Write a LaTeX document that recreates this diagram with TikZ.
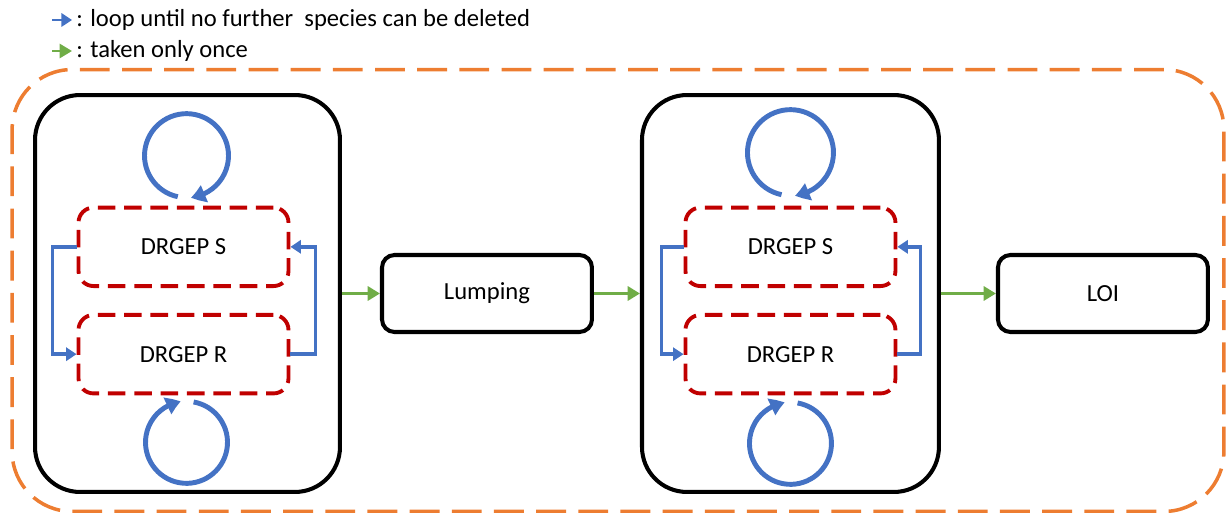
\documentclass[tikz,border=0pt]{standalone}
\usepackage{fontspec}
\setmainfont{Carlito}
\usepackage{tikz}
\usetikzlibrary{positioning}
\usetikzlibrary{calc}
\usetikzlibrary{arrows.meta}
\usetikzlibrary{bending}
\usepackage{xcolor}
\definecolor{loopblue}{HTML}{4472C4}
\definecolor{oncegreen}{HTML}{70AD47}
\definecolor{stagered}{HTML}{C00000}
\definecolor{frameorange}{HTML}{ED7D31}
\tikzset{reduction/.style={
          draw, line width=2.3pt, rounded corners=0.9cm,
          minimum height=7.94cm, inner sep=0pt
          },
        drgep/.style={
          draw=stagered, line width=2.2pt, dash pattern=on 10pt off 5pt,
          rounded corners=0.3cm, minimum width=4.2cm, minimum height=1.57cm,
          font=\fontsize{14}{17}\selectfont
          },
        plainbox/.style={
          draw, line width=2.3pt, rounded corners=0.25cm,
          minimum width=4.2cm, minimum height=1.54cm,
          font=\fontsize{14}{17}\selectfont
          },
        pipeline/.style={
          draw=frameorange, line width=2pt, dash pattern=on 17pt off 7pt,
          rounded corners=1.2cm, inner sep=0pt
          },
        selfloop/.style={draw=loopblue, line width=2.8pt, -{Triangle[length=8pt,width=10pt,bend]}},
        swapedge/.style={draw=loopblue, line width=2pt, -{Triangle[length=6pt,width=7.5pt]}},
        onceedge/.style={draw=oncegreen, line width=2pt, -{Triangle[length=7pt,width=8pt]}},
        keytext/.style={anchor=west, inner sep=0pt, font=\fontsize{14}{17}\selectfont},
}

\begin{document}
\begin{tikzpicture}[x=0.02cm, y=0.02cm]
      \useasboundingbox (0,0) rectangle (1226,-513);
      % \draw[help lines, dashed] grid (1226, -513);

      % LEGEND
      \node[keytext] (loopkey) at (76,-20) {: loop until no further\ \ species can be deleted};
      \node[keytext] (oncekey) at (76,-51) {: taken only once};
      \draw[swapedge, line width=1.4pt] ([xshift=-0.48cm]loopkey.west) -- ([xshift=-0.08cm]loopkey.west);
      \draw[onceedge, line width=1.4pt] ([xshift=-0.48cm]oncekey.west) -- ([xshift=-0.08cm]oncekey.west);

      % WHOLE PIPELINE
      \node[pipeline, minimum width=24.24cm, minimum height=8.84cm] (frame) at (618,-290.5) {};

      % FIRST REDUCTION
      \node[reduction, minimum width=6.1cm] (reduceone) at (187.5,-293.5) {};
      \node[drgep, above=0.11cm of reduceone.center, xshift=-0.08cm] (drgepsone) {DRGEP S};
      \node[drgep, below=0.5cm of drgepsone] (drgeprone) {DRGEP R};
      \draw[swapedge] (drgepsone.west) -- ++(-24,0) |- (drgeprone.west);
      \draw[swapedge] (drgeprone.east) -- ++(25,0) |- (drgepsone.east);
      \draw[selfloop] ($(drgepsone.north)+(3,50)+(258:0.84cm)$) arc[start angle=258, end angle=-84, radius=0.84cm];
      \draw[selfloop] ($(drgeprone.south)+(3,-47)+(80:0.82cm)$) arc[start angle=80, end angle=-262, radius=0.82cm];

      % LUMPING
      \node[plainbox, right=0.76cm of reduceone] (lumping) {Lumping};

      % SECOND REDUCTION
      \node[reduction, minimum width=5.94cm, right=0.92cm of lumping] (reducetwo) {};
      \node[drgep, above=0.11cm of reducetwo.center] (drgepstwo) {DRGEP S};
      \node[drgep, below=0.5cm of drgepstwo] (drgeprtwo) {DRGEP R};
      \draw[swapedge] (drgepstwo.west) -- ++(-22,0) |- (drgeprtwo.west);
      \draw[swapedge] (drgeprtwo.east) -- ++(23,0) |- (drgepstwo.east);
      \draw[selfloop] ($(drgepstwo.north)+(0,53)+(258:0.86cm)$) arc[start angle=258, end angle=-84, radius=0.86cm];
      \draw[selfloop] ($(drgeprtwo.south)+(0,-48)+(80:0.82cm)$) arc[start angle=80, end angle=-262, radius=0.82cm];

      % LOI
      \node[plainbox, right=1.1cm of reducetwo] (loi) {LOI};

      % TAKEN ONCE
      \draw[onceedge] (reduceone) -- (lumping);
      \draw[onceedge] (lumping) -- (reducetwo);
      \draw[onceedge] (reducetwo) -- (loi);

\end{tikzpicture}
\end{document}
